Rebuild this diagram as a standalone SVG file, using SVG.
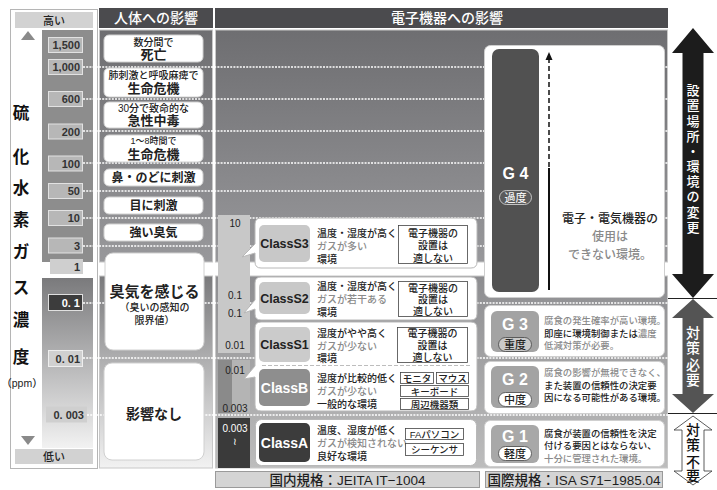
<svg xmlns="http://www.w3.org/2000/svg" width="717" height="490" viewBox="0 0 717 490">
<defs>
<style>
text{font-family:"Liberation Sans","Noto Sans CJK JP",sans-serif;fill:#222;font-weight:500}
.c{text-anchor:middle}
.hdt{font-size:14px;fill:#fff;text-anchor:middle}
.nb{fill:#b7b7b7;stroke:#e2e2e2;stroke-width:1}
.nt{font-size:11px;font-weight:bold;fill:#333;text-anchor:end}
.vt{font-size:16.5px;font-weight:bold;text-anchor:middle;fill:#111}
.hb{fill:#fff;stroke:#d0d0d0;stroke-width:1}
.s10{font-size:10px;text-anchor:middle}
.b13{font-size:13px;font-weight:bold;text-anchor:middle}
.b12{font-size:12px;font-weight:bold;text-anchor:middle}
.lvl{stroke:#fff;stroke-width:1.6;stroke-dasharray:2 1.2;fill:none}
.cbox{fill:#fff;stroke:#b8b8b8;stroke-width:1}
.ct{font-size:12.5px;font-weight:bold;text-anchor:middle;fill:#222}
.ctw{font-size:14px;font-weight:bold;text-anchor:middle;fill:#fff}
.d{font-size:10px}
.gy{fill:#8a8a8a}
.ob{fill:#fff;stroke:#444;stroke-width:0.8}
.ot{font-size:10px;text-anchor:middle}
.os{font-size:9.5px;text-anchor:middle}
.cl{font-size:10px;text-anchor:middle;fill:#222}
.gt{font-size:9.4px}
.gn{font-size:16px;font-weight:bold;fill:#fff;text-anchor:middle}
.pill{stroke:#444;stroke-width:0.8}
.pt{font-size:11px;text-anchor:middle}
.std{fill:#d4d4d4;stroke:#9a9a9a;stroke-width:1}
.stt{font-size:13.5px;text-anchor:middle;fill:#1e1e1e}
.at{font-size:13px;text-anchor:middle}
</style>
<linearGradient id="gUp" x1="0" y1="0" x2="0" y2="1">
<stop offset="0" stop-color="#6e6e71"/><stop offset="1" stop-color="#98989b"/>
</linearGradient>
<linearGradient id="gLoE" x1="0" y1="0" x2="0" y2="1">
<stop offset="0" stop-color="#8d8d90"/><stop offset="1" stop-color="#bdbdbd"/>
</linearGradient>
<linearGradient id="gLoL" x1="0" y1="0" x2="0" y2="1">
<stop offset="0" stop-color="#7a7a7c"/><stop offset="1" stop-color="#f2f2f2"/>
</linearGradient>
</defs>
<rect width="717" height="490" fill="#fff"/>

<g id="panels">
<rect x="10.5" y="9.5" width="87" height="459" fill="#fff" stroke="#b5b5b5"/>
<rect x="99" y="8" width="114" height="20" fill="#4b4b4e"/>
<rect x="99.5" y="30" width="113" height="232" fill="url(#gUp)" stroke="#c8c8c8"/>
<rect x="99.5" y="276" width="113" height="192" fill="url(#gLoL)" stroke="#c8c8c8"/>
<rect x="215" y="8" width="453" height="20" fill="#4b4b4e"/>
<rect x="215.5" y="30" width="452" height="232" fill="url(#gUp)" stroke="#c8c8c8"/>
<rect x="215.5" y="276" width="452" height="192" fill="url(#gLoE)" stroke="#c8c8c8"/>
<text x="156" y="23" class="hdt">人体への影響</text>
<text x="447" y="23" class="hdt">電子機器への影響</text>
</g>

<g id="scale">
<rect x="15" y="12" width="78" height="16" fill="#d2d2d2"/>
<text x="54" y="24.5" class="c" style="font-size:11px">高い</text>
<polygon points="28,31 35,40 21,40" fill="#8a8a8a"/>
<rect x="42" y="30" width="51" height="232" fill="#8d8d8d"/>
<rect x="42" y="278" width="51" height="170" fill="url(#gLoL)"/>
<polygon points="21,436 35,436 28,445" fill="#8a8a8a"/>
<rect x="15" y="449" width="78" height="15" fill="#d2d2d2"/>
<text x="54" y="460.5" class="c" style="font-size:11px">低い</text>
<rect x="48.5" y="37.5" width="34" height="15" class="nb"/><text x="80" y="49" class="nt">1,500</text>
<rect x="48.5" y="59.5" width="34" height="15" class="nb"/><text x="80" y="71" class="nt">1,000</text>
<rect x="48.5" y="91.5" width="34" height="15" class="nb"/><text x="80" y="103" class="nt">600</text>
<rect x="48.5" y="124" width="34" height="15" class="nb"/><text x="80" y="135.5" class="nt">200</text>
<rect x="48.5" y="156" width="34" height="15" class="nb"/><text x="80" y="167.5" class="nt">100</text>
<rect x="48.5" y="183.5" width="34" height="15" class="nb"/><text x="80" y="195" class="nt">50</text>
<rect x="48.5" y="210.5" width="34" height="15" class="nb"/><text x="80" y="222" class="nt">10</text>
<rect x="48.5" y="238" width="34" height="15" class="nb"/><text x="80" y="249.5" class="nt">3</text>
<rect x="50" y="259" width="33" height="15" fill="#cfcfcf"/><text x="80" y="270.5" class="nt">1</text>
<rect x="48.5" y="294.5" width="34" height="16" fill="#3c3c3c" stroke="#e0e0e0"/><text x="80" y="306.5" class="nt" style="fill:#fff">0. 1</text>
<rect x="48.5" y="350.5" width="34" height="16" fill="#d0d0d0" stroke="#eeeeee"/><text x="80" y="362.5" class="nt">0. 01</text>
<rect x="46" y="406.5" width="41" height="16" fill="#cfcfcf"/><text x="84" y="418.5" class="nt">0. 003</text>
<text x="21" y="119" class="vt">硫</text>
<text x="21" y="163" class="vt">化</text>
<text x="21" y="194" class="vt">水</text>
<text x="21" y="226" class="vt">素</text>
<text x="21" y="258" class="vt">ガ</text>
<text x="21" y="294" class="vt">ス</text>
<text x="21" y="326" class="vt">濃</text>
<text x="21" y="363" class="vt">度</text>
<text x="22" y="387" class="c" style="font-size:10.5px">（ppm）</text>
</g>

<g id="level-lines">
<line x1="83" y1="67" x2="668" y2="67" class="lvl"/>
<line x1="83" y1="99" x2="668" y2="99" class="lvl"/>
<line x1="83" y1="131" x2="668" y2="131" class="lvl"/>
<line x1="83" y1="163" x2="668" y2="163" class="lvl"/>
<line x1="83" y1="191" x2="668" y2="191" class="lvl"/>
<line x1="83" y1="218" x2="668" y2="218" class="lvl"/>
<line x1="83" y1="246" x2="668" y2="246" class="lvl"/>
<line x1="83" y1="303" x2="668" y2="303" class="lvl"/>
<line x1="83" y1="358" x2="668" y2="358" class="lvl"/>
<line x1="87" y1="415" x2="668" y2="415" class="lvl"/>
</g>

<g id="human-1"><rect x="104" y="35" width="99" height="27" rx="5" class="hb"/>
<text x="153.5" y="45.5" class="s10">数分間で</text><text x="153.5" y="59" class="b13">死亡</text></g>
<g id="human-2"><rect x="104" y="68" width="99" height="29" rx="5" class="hb"/>
<text x="153.5" y="78.5" class="s10">肺刺激と呼吸麻痺で</text><text x="153.5" y="93" class="b13">生命危機</text></g>
<g id="human-3"><rect x="104" y="102" width="99" height="26" rx="5" class="hb"/>
<text x="153.5" y="111.5" class="s10">30分で致命的な</text><text x="153.5" y="125" class="b13">急性中毒</text></g>
<g id="human-4"><rect x="104" y="135" width="99" height="27" rx="5" class="hb"/>
<text x="153.5" y="144" class="s10" style="font-size:9px">1～8時間で</text><text x="153.5" y="158.5" class="b13">生命危機</text></g>
<g id="human-5"><rect x="104" y="169" width="99" height="17" rx="5" class="hb"/>
<text x="153.5" y="182" class="b12">鼻・のどに刺激</text></g>
<g id="human-6"><rect x="104" y="197" width="99" height="17" rx="5" class="hb"/>
<text x="153.5" y="210" class="b12">目に刺激</text></g>
<g id="human-7"><rect x="104" y="224" width="99" height="17" rx="5" class="hb"/>
<text x="153.5" y="237" class="b12">強い臭気</text></g>
<g id="human-8"><rect x="105" y="253" width="99" height="97" rx="8" class="hb"/>
<text x="154.5" y="297" class="c" style="font-size:15px;font-weight:bold">臭気を感じる</text>
<text x="154.5" y="311" class="s10">（臭いの感知の</text>
<text x="154.5" y="324" class="s10">限界値）</text></g>
<g id="human-9"><rect x="104" y="363" width="100" height="97" rx="8" class="hb"/>
<text x="154" y="419" class="c" style="font-size:14px;font-weight:bold">影響なし</text></g>

<g id="class-scale">
<rect x="218" y="215" width="32" height="138" fill="#c8c8c8"/>
<rect x="218" y="360" width="32" height="53" fill="#b4b4b4"/>
<rect x="218" y="360" width="14" height="53" fill="#8a8a8a"/>
<rect x="218" y="418" width="32" height="50" fill="#3a3a3a"/>
<text x="235" y="226.5" class="cl">10</text>
<text x="235" y="298.5" class="cl">0.1</text>
<text x="235" y="316.5" class="cl">0.1</text>
<text x="235" y="348.5" class="cl">0.01</text>
<text x="235" y="373.5" class="cl">0.01</text>
<text x="235" y="411.5" class="cl">0.003</text>
<text x="235" y="432" class="cl" style="fill:#fff">0.003</text>
<text x="235" y="445" class="cl" style="fill:#fff">≀</text>
</g>

<g id="class-s3">
<path d="M261,218 H471 Q477,218 477,224 V262 Q477,268 471,268 H261 Q255,268 255,262 V253 L242,257 L255,244 V224 Q255,218 261,218 Z" class="cbox"/>
<rect x="259" y="225" width="51" height="37" rx="5" fill="#c8c8c8"/>
<text x="284.5" y="248" class="ct">ClassS3</text>
<text x="317" y="237" class="d">温度・湿度が高く</text>
<text x="317" y="250" class="d gy">ガスが多い</text>
<text x="317" y="263" class="d">環境</text>
<rect x="398.5" y="225.5" width="69" height="38" class="ob"/>
<text x="433" y="236.5" class="ot">電子機器の</text>
<text x="433" y="249" class="ot">設置は</text>
<text x="433" y="261.5" class="ot">適しない</text>
</g>

<g id="class-s2">
<path d="M261,277 H471 Q477,277 477,283 V314 Q477,320 471,320 H261 Q255,320 255,314 V309 L244,313 L255,300 V283 Q255,277 261,277 Z" class="cbox"/>
<rect x="259" y="282" width="51" height="32" rx="5" fill="#c8c8c8"/>
<text x="284.5" y="302.5" class="ct">ClassS2</text>
<text x="317" y="290" class="d">温度・湿度が高く</text>
<text x="317" y="303" class="d gy">ガスが若干ある</text>
<text x="317" y="316" class="d">環境</text>
<rect x="398.5" y="281.5" width="69" height="35" class="ob"/>
<text x="433" y="291.5" class="ot">電子機器の</text>
<text x="433" y="303" class="ot">設置は</text>
<text x="433" y="314.5" class="ot">適しない</text>
</g>

<g id="class-s1-b">
<path d="M261,322 H471 Q477,322 477,328 V405 Q477,411 471,411 H261 Q255,411 255,405 V377 L244,379 L255,366 V328 Q255,322 261,322 Z" class="cbox"/>
<line x1="262" y1="365.5" x2="472" y2="365.5" stroke="#bdbdbd" stroke-dasharray="4 2"/>
</g>
<g id="class-s1">
<rect x="259" y="327" width="51" height="35" rx="5" fill="#cbcbcb"/>
<text x="284.5" y="349" class="ct">ClassS1</text>
<text x="317" y="337" class="d">湿度がやや高く</text>
<text x="317" y="349.5" class="d gy">ガスが少ない</text>
<text x="317" y="362" class="d">環境</text>
<rect x="397.5" y="327.5" width="70" height="35" class="ob"/>
<text x="432.5" y="337" class="ot">電子機器の</text>
<text x="432.5" y="348.5" class="ot">設置は</text>
<text x="432.5" y="360.5" class="ot">適しない</text>
</g>
<g id="class-b">
<rect x="259" y="369" width="51" height="37" rx="5" fill="#8e8e8e"/>
<text x="284.5" y="393" class="ctw">ClassB</text>
<text x="317" y="382" class="d">湿度が比較的低く</text>
<text x="317" y="395" class="d gy">ガスが少ない</text>
<text x="317" y="408" class="d">一般的な環境</text>
<rect x="400.5" y="372.5" width="33" height="11" class="ob"/><text x="417" y="381.5" class="os">モニタ</text>
<rect x="436.5" y="372.5" width="32" height="11" class="ob"/><text x="452.5" y="381.5" class="os">マウス</text>
<rect x="400.5" y="385.5" width="68" height="11" class="ob"/><text x="434.5" y="394.5" class="os">キーボード</text>
<rect x="400.5" y="398.5" width="68" height="11" class="ob"/><text x="434.5" y="407.5" class="os">周辺機器類</text>
</g>

<g id="class-a">
<rect x="255.5" y="419.5" width="221" height="46" rx="6" class="cbox"/>
<rect x="259" y="423" width="51" height="39" rx="5" fill="#3c3c3c"/>
<text x="284.5" y="447.5" class="ctw">ClassA</text>
<text x="317" y="434" class="d">温度、湿度が低く</text>
<text x="317" y="447" class="d gy">ガスが検知されない</text>
<text x="317" y="460" class="d">良好な環境</text>
<rect x="405.5" y="428.5" width="58" height="11" class="ob"/><text x="434.5" y="437.5" class="os">FAパソコン</text>
<rect x="405.5" y="443.5" width="58" height="12" class="ob"/><text x="434.5" y="453" class="os">シーケンサ</text>
</g>

<g id="g4">
<rect x="484.5" y="45.5" width="180" height="252" rx="6" fill="#fff" stroke="#cfcfcf"/>
<rect x="492" y="49" width="47" height="243" rx="7" fill="#515151"/>
<text x="515.5" y="179" class="gn">G 4</text>
<rect x="499.5" y="190.5" width="32" height="14" rx="7" fill="#5a5a5a" stroke="#e0e0e0" stroke-width="0.8"/>
<text x="515.5" y="201.5" class="pt" style="fill:#f2f2f2">過度</text>
<text x="610" y="223" class="c" style="font-size:12px">電子・電気機器の</text>
<text x="610" y="241" class="c gy" style="font-size:12px">使用は</text>
<text x="610" y="259" class="c gy" style="font-size:12px">できない環境。</text>
</g>

<g id="g3">
<rect x="484.5" y="305.5" width="180" height="51" rx="6" fill="#fff" stroke="#cfcfcf"/>
<rect x="491" y="311" width="48" height="41" rx="6" fill="#a3a3a3"/>
<text x="515" y="330" class="gn">G 3</text>
<rect x="498.5" y="337.5" width="33" height="14" rx="7" fill="#cacaca" class="pill"/>
<text x="515" y="348.5" class="pt">重度</text>
<text x="544" y="324" class="gt gy">腐食の発生確率が高い環境。</text>
<text x="544" y="336.5" class="gt">即座に環境制御または<tspan class="gy">濃度</tspan></text>
<text x="544" y="349" class="gt gy">低減対策が必要。</text>
</g>

<g id="g2">
<rect x="484.5" y="361.5" width="180" height="52" rx="6" fill="#fff" stroke="#cfcfcf"/>
<rect x="491" y="366" width="48" height="42" rx="6" fill="#a3a3a3"/>
<text x="515" y="385" class="gn">G 2</text>
<rect x="498.5" y="392.5" width="33" height="14" rx="7" fill="#fff" class="pill"/>
<text x="515" y="403.5" class="pt">中度</text>
<text x="544" y="376" class="gt gy">腐食の影響が無視できなく、</text>
<text x="544" y="388.5" class="gt">また装置の信頼性の決定要</text>
<text x="544" y="401" class="gt">因になる可能性がある環境。</text>
</g>

<g id="g1">
<rect x="484.5" y="420.5" width="180" height="46" rx="6" fill="#fff" stroke="#cfcfcf"/>
<rect x="491" y="425" width="48" height="38" rx="6" fill="#a8a8a8"/>
<text x="515" y="442" class="gn">G 1</text>
<rect x="498.5" y="446.5" width="33" height="14" rx="7" fill="#fff" class="pill"/>
<text x="515" y="457.5" class="pt">軽度</text>
<text x="544" y="436.5" class="gt">腐食が装置の信頼性を決定</text>
<text x="544" y="449" class="gt">付ける要因とはならない、</text>
<text x="544" y="461.5" class="gt gy">十分に管理された環境。</text>
</g>

<g id="standards">
<rect x="215.5" y="471.5" width="264" height="16" class="std"/>
<text x="347.5" y="484.5" class="stt">国内規格：JEITA IT−1004</text>
<rect x="485.5" y="471.5" width="177" height="16" class="std"/>
<text x="574" y="484.5" class="stt">国際規格：ISA S71−1985.04</text>
</g>

<g id="connectors">
<line x1="549" y1="58" x2="549" y2="168" stroke="#111" stroke-width="1.5" stroke-dasharray="5 3"/>
<line x1="549" y1="168" x2="549" y2="290" stroke="#111" stroke-width="2"/>
<polygon points="549,52 552.5,60 545.5,60" fill="#111"/>
<line x1="668" y1="298.5" x2="717" y2="298.5" stroke="#222" stroke-width="1"/>
<line x1="668" y1="413.5" x2="717" y2="413.5" stroke="#222" stroke-width="1"/>
<polygon points="693,28 714,53 703.5,53 703.5,274 714,274 693,298 672,274 682.5,274 682.5,53 672,53" fill="#1c1c1c"/>
<polygon points="693,299 714,318 703.5,318 703.5,394 714,394 693,413 672,394 682.5,394 682.5,318 672,318" fill="#545454"/>
<polygon points="693,416 712,430 704,430 704,471 712,471 693,485 674,471 682,471 682,430 674,430" fill="#fff" stroke="#333" stroke-width="0.8"/>
</g>

<g id="arrow-labels">
<text class="at" style="fill:#fff">
<tspan x="693" y="95">設</tspan><tspan x="693" y="110">置</tspan><tspan x="693" y="125.5">場</tspan><tspan x="693" y="141">所</tspan><tspan x="693" y="156">・</tspan><tspan x="693" y="171">環</tspan><tspan x="693" y="186">境</tspan><tspan x="693" y="201">の</tspan><tspan x="693" y="216.5">変</tspan><tspan x="693" y="232">更</tspan>
</text>
<text class="at" style="fill:#fff;font-size:14px">
<tspan x="693" y="338">対</tspan><tspan x="693" y="353">策</tspan><tspan x="693" y="369.5">必</tspan><tspan x="693" y="384.5">要</tspan>
</text>
<text class="at" style="fill:#111;font-size:14px">
<tspan x="693" y="435">対</tspan><tspan x="693" y="450">策</tspan><tspan x="693" y="466.5">不</tspan><tspan x="693" y="481">要</tspan>
</text>
</g>
</svg>
